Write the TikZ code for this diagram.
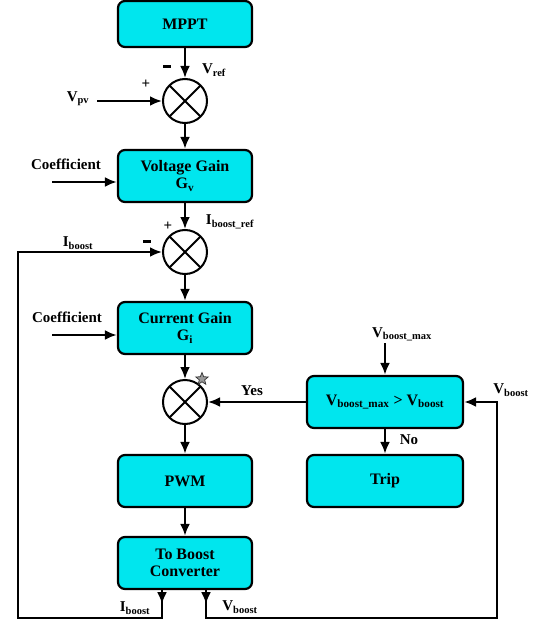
\documentclass[tikz,border=0pt]{standalone}
\usepackage{fontspec}
\setmainfont{Liberation Serif}
\usetikzlibrary{arrows.meta,shapes.geometric}
\definecolor{boxcyan}{RGB}{0,230,238}
\tikzset{
  blk/.style={draw, line width=2.2pt, rounded corners=7pt, fill=boxcyan,
    minimum width=134pt, minimum height=52pt, align=center,
    font=\fontsize{16}{17}\selectfont\bfseries},
  sum/.style={draw, circle, line width=2pt, minimum size=44pt, inner sep=0pt,
    path picture={\draw[line width=2pt]
      (path picture bounding box.north west) -- (path picture bounding box.south east)
      (path picture bounding box.north east) -- (path picture bounding box.south west);}},
  lbl/.style={font=\fontsize{15}{16}\selectfont\bfseries, inner sep=1pt},
}
\newcommand{\minus}{\rule[3pt]{8pt}{2.6pt}}
\begin{document}
\begin{tikzpicture}[x=1pt,y=-1pt,>={Latex[length=12pt,width=10pt]},line width=2.4pt]
        \useasboundingbox (0,0) rectangle (535,626);
        % main chain
        \node[blk, minimum height=46pt] (a) at (185,24) {MPPT};
        \node[sum] (b) at (185,101) {};
        \node[blk] (c) at (185,176) {Voltage Gain\\G\textsubscript{v}};
        \node[sum] (d) at (185,252) {};
        \node[blk] (e) at (185,328) {Current Gain\\G\textsubscript{i}};
        \node[sum] (f) at (185,402) {};
        \node[blk] (g) at (185,481) {PWM};
        \node[blk] (h) at (185,563) {To Boost\\Converter};
        % protection branch
        \node[blk, minimum width=156pt] (i) at (385,402) {V\textsubscript{boost\_max} > V\textsubscript{boost}};
        \node[blk, minimum width=156pt] (j) at (385,481) {Trip};
        % labels
        \node[lbl] (vpv) at (78,99) {V\textsubscript{pv}};
        \node[lbl] (p1) at (146,84) {+};
        \node[lbl] (m1) at (167,68) {\minus};
        \node[lbl] (vref) at (214,70) {V\textsubscript{ref}};
        \node[lbl] (k1) at (66,164) {Coefficient};
        \node[lbl] (iref) at (230,222) {I\textsubscript{boost\_ref}};
        \node[lbl] (p2) at (168,226) {+};
        \node[lbl] (m2) at (147,243) {\minus};
        \node[lbl] (ib1) at (78,243) {I\textsubscript{boost}};
        \node[lbl] (k2) at (67,317) {Coefficient};
        \node[star, star points=5, star point ratio=2.3, draw=black!80, fill=black!40,
              line width=0.7pt, minimum size=13pt, inner sep=0pt] (st) at (202,379) {};
        \node[lbl] (yes) at (252,391) {Yes};
        \node[lbl] (vmax) at (402,334) {V\textsubscript{boost\_max}};
        \node[lbl] (no) at (409,440) {No};
        \node[lbl] (vb1) at (511,390) {V\textsubscript{boost}};
        \node[lbl] (ib2) at (135,608) {I\textsubscript{boost}};
        \node[lbl] (vb2) at (240,607) {V\textsubscript{boost}};
        % free ends
        \coordinate (pv) at (97,101);
        \coordinate (k1s) at (52,182);
        \coordinate (k2s) at (52,335);
        \coordinate (mx) at (385,343);
        \coordinate (bl) at (18,618);
        \coordinate (br) at (497,618);
        % connectors
        \draw[->] (a) -- (b);
        \draw[->] (pv) -- (b);
        \draw[->] (b) -- (c);
        \draw[->] (k1s) -- (k1s -| c.west);
        \draw[->] (c) -- (d);
        \draw[->] (d) -- (e);
        \draw[->] (k2s) -- (k2s -| e.west);
        \draw[->] (e) -- (f);
        \draw[->] (f) -- (g);
        \draw[->] (g) -- (h);
        \draw[->] (mx) -- (i);
        \draw[->] (i) -- (j);
        \draw[->] (i) -- (f);
        % feedback loops
        \draw[->] ([xshift=-23pt]h.south) -- ++(0,14);
        \draw[->] ([xshift=-23pt]h.south) |- (bl) |- (d);
        \draw[->] ([xshift=21pt]h.south) -- ++(0,14);
        \draw[->] ([xshift=21pt]h.south) |- (br) |- (i);
\end{tikzpicture}
\end{document}
